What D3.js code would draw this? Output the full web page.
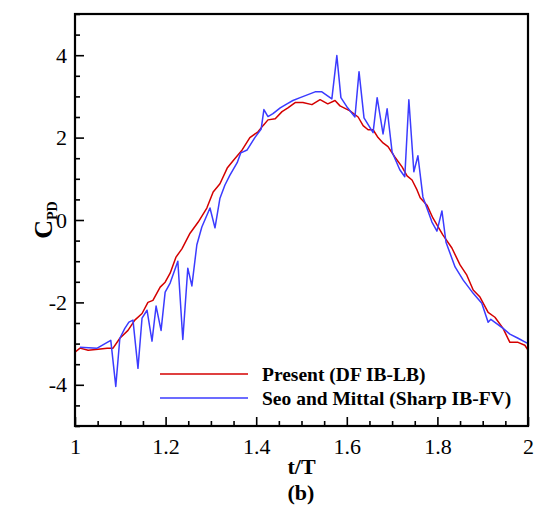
<!DOCTYPE html>
<html>
<head>
<meta charset="utf-8">
<script src="https://cdn.jsdelivr.net/npm/d3@7"></script>
<style>
  body { margin: 0; background: #fff; }
  svg text { font-family: "Liberation Serif", "Times New Roman", Times, serif; }
</style>
</head>
<body>
<div id="chart"></div>
<script>
// Present (DF IB-LB)
const presentT = [1.000, 1.011, 1.029, 1.051, 1.071, 1.084, 1.099, 1.117, 1.132, 1.148, 1.161, 1.172, 1.188, 1.199,
  1.210, 1.223, 1.236, 1.254, 1.272, 1.291, 1.305, 1.320, 1.336, 1.349, 1.369, 1.386, 1.404, 1.415, 1.426, 1.442,
  1.457, 1.470, 1.486, 1.503, 1.523, 1.541, 1.558, 1.574, 1.585, 1.607, 1.625, 1.636, 1.647, 1.658, 1.669, 1.680,
  1.691, 1.706, 1.722, 1.733, 1.744, 1.755, 1.762, 1.777, 1.790, 1.812, 1.832, 1.850, 1.865, 1.879, 1.894, 1.912,
  1.927, 1.945, 1.960, 1.978, 1.993, 2.000];
const presentC = [-3.21, -3.11, -3.16, -3.14, -3.11, -3.11, -2.87, -2.68, -2.43, -2.27, -2.00, -1.95, -1.63, -1.51,
  -1.29, -0.90, -0.70, -0.32, -0.05, 0.29, 0.68, 0.88, 1.26, 1.44, 1.70, 2.00, 2.14, 2.29, 2.43, 2.46,
  2.63, 2.72, 2.85, 2.85, 2.80, 2.92, 2.82, 2.90, 2.77, 2.65, 2.50, 2.29, 2.19, 2.19, 2.00, 1.87,
  1.78, 1.53, 1.29, 1.07, 0.97, 0.73, 0.54, 0.36, 0.05, -0.36, -0.68, -1.09, -1.34, -1.70, -1.87, -2.24,
  -2.36, -2.63, -2.97, -2.97, -3.04, -3.16];

// Seo and Mittal (Sharp IB-FV)
const seoT = [1.011, 1.049, 1.079, 1.090, 1.099, 1.110, 1.119, 1.128, 1.139, 1.148, 1.159, 1.170, 1.179, 1.190,
  1.199, 1.210, 1.227, 1.238, 1.249, 1.258, 1.269, 1.280, 1.298, 1.309, 1.320, 1.331, 1.342, 1.358, 1.366, 1.380,
  1.397, 1.411, 1.417, 1.426, 1.437, 1.453, 1.468, 1.481, 1.497, 1.530, 1.545, 1.567, 1.578, 1.587, 1.600, 1.618,
  1.627, 1.638, 1.658, 1.667, 1.680, 1.689, 1.700, 1.717, 1.728, 1.737, 1.748, 1.757, 1.768, 1.788, 1.799, 1.810,
  1.819, 1.839, 1.857, 1.879, 1.898, 1.912, 1.918, 1.945, 1.960, 1.978, 1.998];
const seoC = [-3.09, -3.11, -2.92, -4.04, -2.87, -2.63, -2.48, -2.43, -3.60, -2.38, -2.19, -2.94, -2.09, -2.68,
  -1.75, -1.53, -1.00, -2.90, -1.17, -1.60, -0.60, -0.17, 0.29, -0.19, 0.53, 0.85, 1.09, 1.39, 1.63, 1.70,
  2.00, 2.21, 2.68, 2.51, 2.58, 2.72, 2.82, 2.90, 2.97, 3.11, 3.11, 2.94, 3.99, 2.97, 2.75, 2.50,
  3.60, 2.48, 2.12, 2.97, 2.09, 2.70, 1.65, 1.22, 1.05, 2.92, 1.17, 1.56, 0.56, -0.05, -0.27, 0.22,
  -0.54, -1.14, -1.46, -1.78, -2.02, -2.48, -2.41, -2.63, -2.77, -2.87, -2.99];

const xTicks = [1, 1.2, 1.4, 1.6, 1.8, 2];
const yTicks = [-4, -2, 0, 2, 4];
const seriesNames = ["Present (DF IB-LB)", "Seo and Mittal (Sharp IB-FV)"];
const seriesColors = ["#d40000", "#3b3bff"];

const serif = "'Liberation Serif', 'Times New Roman', Times, serif";
const width = 534, height = 514;
const margin = { left: 75, right: 6, top: 14, bottom: 88 };

const svg = d3.select("#chart").append("svg")
    .attr("width", width)
    .attr("height", height)
    .style("font-family", serif);

const x = d3.scaleLinear().domain([1, 2]).range([margin.left, width - margin.right]);
const y = d3.scaleLinear().domain([-5, 5]).range([height - margin.bottom, margin.top]);

const line = d3.line().x(d => x(d[0])).y(d => y(d[1]));

const series = [
    d3.zip(presentT, presentC),
    d3.zip(seoT, seoC)
];

// clip to plot box
svg.append("clipPath").attr("id", "clip")
  .append("rect")
    .attr("x", x(1)).attr("y", y(5))
    .attr("width", x(2) - x(1)).attr("height", y(-5) - y(5));

svg.append("g").attr("clip-path", "url(#clip)")
  .selectAll("path")
  .data(series)
  .enter()
  .append("path")
    .attr("fill", "none")
    .attr("stroke", (d, i) => seriesColors[i])
    .attr("stroke-width", 1.5)
    .attr("stroke-linejoin", "round")
    .attr("d", line);

// axes, ticks inward
const xMinor = d3.range(1, 2.0001, 0.05).filter(v => !xTicks.some(t => Math.abs(t - v) < 1e-6));
const yMinor = d3.range(-5, 5.0001, 0.5).filter(v => !yTicks.some(t => Math.abs(t - v) < 1e-6));

const bottomAxis = svg.append("g")
    .attr("transform", `translate(0,${y(-5)})`)
    .call(d3.axisBottom(x).tickValues(xTicks).tickSize(-9).tickPadding(12).tickFormat(d3.format("")));
const bottomMinor = svg.append("g")
    .attr("transform", `translate(0,${y(-5)})`)
    .call(d3.axisBottom(x).tickValues(xMinor).tickSize(-5).tickFormat(""));
const leftAxis = svg.append("g")
    .attr("transform", `translate(${x(1)},0)`)
    .call(d3.axisLeft(y).tickValues(yTicks).tickSize(-9).tickPadding(8).tickFormat(d3.format("")));
const leftMinor = svg.append("g")
    .attr("transform", `translate(${x(1)},0)`)
    .call(d3.axisLeft(y).tickValues(yMinor).tickSize(-5).tickFormat(""));

[bottomAxis, bottomMinor, leftAxis, leftMinor].forEach(g => {
    g.attr("font-family", serif);
    g.select(".domain").remove();
    g.selectAll("line").attr("stroke", "#000").attr("stroke-width", 1.6);
    g.selectAll("text").attr("font-size", 22).attr("fill", "#000");
});
leftAxis.selectAll("text").text(d => d < 0 ? "-" + Math.abs(d) : d);

// frame
svg.append("rect")
    .attr("x", x(1)).attr("y", y(5))
    .attr("width", x(2) - x(1)).attr("height", y(-5) - y(5))
    .attr("fill", "none")
    .attr("stroke", "#000")
    .attr("stroke-width", 2.2);

// axis titles
svg.append("text")
    .attr("x", (x(1) + x(2)) / 2)
    .attr("y", 474)
    .attr("text-anchor", "middle")
    .attr("font-size", 22)
    .attr("font-weight", "bold")
    .text("t/T");

const yTitle = svg.append("text")
    .attr("transform", `translate(52,${y(0)}) rotate(-90)`)
    .attr("text-anchor", "middle")
    .attr("font-weight", "bold");
yTitle.append("tspan").attr("font-size", 26).text("C");
yTitle.append("tspan").attr("font-size", 14).attr("dy", 5).text("PD");

svg.append("text")
    .attr("x", 301)
    .attr("y", 500)
    .attr("text-anchor", "middle")
    .attr("font-size", 22)
    .attr("font-weight", "bold")
    .text("(b)");

// legend
const legend = svg.append("g")
    .attr("transform", "translate(160, 374)");

const legendItems = legend.selectAll(".legend-item")
    .data(seriesNames)
    .enter()
    .append("g")
    .attr("class", "legend-item")
    .attr("transform", (d, i) => `translate(0, ${i * 24})`);

legendItems.append("line")
    .attr("x1", 0).attr("x2", 88)
    .attr("stroke", (d, i) => seriesColors[i])
    .attr("stroke-width", 1.5);

legendItems.append("text")
    .attr("x", 102)
    .attr("dy", "0.35em")
    .attr("font-size", 19.5)
    .attr("font-weight", "bold")
    .text(d => d);
</script>
</body>
</html>
